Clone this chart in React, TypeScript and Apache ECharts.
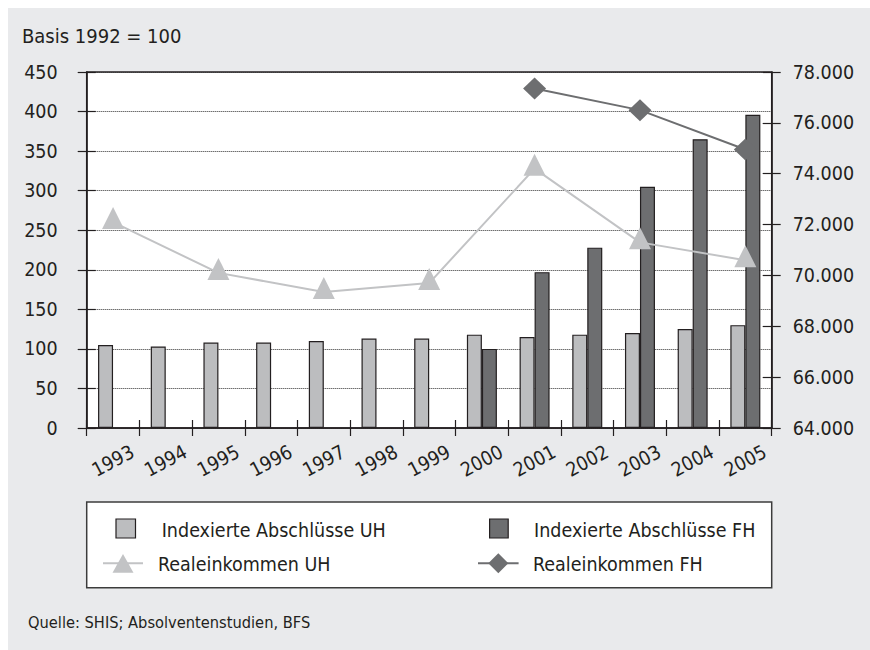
import React, { useEffect, useRef } from "react";
import * as echarts from "echarts";

const years = ["1993", "1994", "1995", "1996", "1997", "1998", "1999", "2000", "2001", "2002", "2003", "2004", "2005"];
const abschluesseUH = [105, 103, 108, 108, 110, 113, 113, 118, 115, 118, 120, 125, 130];
const abschluesseFH = [null, null, null, null, null, null, null, 100, 197, 228, 305, 365, 396];
const realeinkommenUH = [72100, null, 70100, null, 69350, null, 69700, null, 74200, null, 71300, null, 70600];
const realeinkommenFH = [null, null, null, null, null, null, null, null, 77350, null, 76500, null, 74950];

const leftAxis = { min: 0, max: 450, interval: 50 };
const rightAxis = { min: 64000, max: 78000, interval: 2000 };

const seriesNames = ["Indexierte Abschlüsse UH", "Indexierte Abschlüsse FH", "Realeinkommen UH", "Realeinkommen FH"];
const titleText = "Basis 1992 = 100";
const sourceText = "Quelle: SHIS; Absolventenstudien, BFS";

const FONT = "'DejaVu Sans Condensed', 'Liberation Sans Narrow', sans-serif";
const INK = "#231f20";
const LIGHT = "#bcbdbf";
const DARK = "#6d6e70";
const LINE_LIGHT = "#c2c3c5";
const BG = "#e9eaec";

function fmtThousands(v: number) {
  return String(v).replace(/\B(?=(\d{3})+(?!\d))/g, ".");
}

export default function App() {
  const ref = useRef<HTMLDivElement>(null);
  useEffect(() => {
    if (!ref.current) return;
    const chart = echarts.init(ref.current, undefined, { renderer: "svg" });
    const tickStyle = { color: INK, width: 1.2 };
    const option: any = {
      animation: false,
      backgroundColor: BG,
      textStyle: { fontFamily: FONT, color: INK },
      grid: {
        left: 78.7,
        right: 98.3,
        top: 64,
        bottom: 222,
        show: true,
        backgroundColor: "#ffffff",
        borderColor: INK,
        borderWidth: 1.5,
      },
      xAxis: [
        {
          type: "category",
          data: years,
          position: "bottom",
          axisLine: { show: true, onZero: false, lineStyle: { color: INK, width: 1.5 } },
          axisTick: { show: true, length: 8, lineStyle: tickStyle },
          axisLabel: {
            interval: 0,
            rotate: 28,
            align: "center",
            verticalAlign: "middle",
            margin: 33,
            fontSize: 19.5,
            color: INK,
            fontFamily: FONT,
          },
          splitLine: { show: false },
        },
        {
          type: "category",
          data: years,
          position: "bottom",
          axisLine: { show: false, onZero: false },
          axisTick: { show: true, inside: true, length: 8, lineStyle: tickStyle },
          axisLabel: { show: false },
          splitLine: { show: false },
        },
      ],
      yAxis: [
        {
          type: "value",
          position: "left",
          min: leftAxis.min,
          max: leftAxis.max,
          interval: leftAxis.interval,
          axisLine: { show: true, lineStyle: { color: INK, width: 1.5 } },
          axisTick: { show: true, length: 9, lineStyle: tickStyle },
          axisLabel: { margin: 29, fontSize: 19.5, color: INK, fontFamily: FONT },
          splitLine: { show: true, lineStyle: { type: [1, 1], color: "#2e2e2e", width: 1 } },
        },
        {
          type: "value",
          position: "right",
          min: rightAxis.min,
          max: rightAxis.max,
          interval: rightAxis.interval,
          axisLine: { show: true, lineStyle: { color: INK, width: 1.5 } },
          axisTick: { show: true, length: 9, lineStyle: tickStyle },
          axisLabel: { margin: 21, fontSize: 19.5, color: INK, fontFamily: FONT, formatter: (v: number) => fmtThousands(v) },
          splitLine: { show: false },
        },
        {
          type: "value",
          position: "left",
          min: leftAxis.min,
          max: leftAxis.max,
          interval: leftAxis.interval,
          axisLine: { show: false },
          axisTick: { show: true, inside: true, length: 9, lineStyle: tickStyle },
          axisLabel: { show: false },
          splitLine: { show: false },
        },
        {
          type: "value",
          position: "right",
          min: rightAxis.min,
          max: rightAxis.max,
          interval: rightAxis.interval,
          axisLine: { show: false },
          axisTick: { show: true, inside: true, length: 9, lineStyle: tickStyle },
          axisLabel: { show: false },
          splitLine: { show: false },
        },
      ],
      series: [
        {
          name: seriesNames[0],
          type: "bar",
          xAxisIndex: 0,
          yAxisIndex: 0,
          data: abschluesseUH,
          barWidth: 15,
          barGap: "0%",
          itemStyle: { color: LIGHT, borderColor: INK, borderWidth: 1.2 },
        },
        {
          name: seriesNames[1],
          type: "bar",
          xAxisIndex: 0,
          yAxisIndex: 0,
          data: abschluesseFH,
          barWidth: 15,
          barGap: "0%",
          itemStyle: { color: DARK, borderColor: INK, borderWidth: 1.2 },
        },
        {
          name: seriesNames[2],
          type: "line",
          xAxisIndex: 0,
          yAxisIndex: 1,
          data: realeinkommenUH,
          connectNulls: true,
          symbol: "triangle",
          symbolSize: [22, 22],
          symbolOffset: [0, -4],
          lineStyle: { color: LINE_LIGHT, width: 2 },
          itemStyle: { color: LINE_LIGHT, borderWidth: 0 },
          z: 5,
        },
        {
          name: seriesNames[3],
          type: "line",
          xAxisIndex: 0,
          yAxisIndex: 1,
          data: realeinkommenFH,
          connectNulls: true,
          symbol: "diamond",
          symbolSize: [23, 22],
          lineStyle: { color: DARK, width: 2 },
          itemStyle: { color: DARK, borderWidth: 0 },
          z: 5,
        },
      ],
      graphic: [
        {
          type: "text",
          left: 14,
          top: 18,
          style: { text: titleText, fontSize: 20, fontFamily: FONT, fill: INK },
        },
        {
          type: "rect",
          shape: { x: 78.7, y: 494, width: 685, height: 85.7 },
          style: { fill: "#ffffff", stroke: "#3c3c3c", lineWidth: 1.5 },
        },
        {
          type: "rect",
          shape: { x: 108, y: 511, width: 19.5, height: 19 },
          style: { fill: LIGHT, stroke: INK, lineWidth: 1.2 },
        },
        {
          type: "text",
          x: 153.7,
          y: 522,
          style: { text: seriesNames[0], fontSize: 19.5, fontFamily: FONT, fill: INK, verticalAlign: "middle" },
        },
        {
          type: "line",
          shape: { x1: 95, y1: 555.3, x2: 135, y2: 555.3 },
          style: { stroke: LINE_LIGHT, lineWidth: 2 },
        },
        {
          type: "polygon",
          shape: { points: [[115, 546], [125.5, 564.7], [104.5, 564.7]] },
          style: { fill: LINE_LIGHT },
        },
        {
          type: "text",
          x: 150,
          y: 556,
          style: { text: seriesNames[2], fontSize: 19.5, fontFamily: FONT, fill: INK, verticalAlign: "middle" },
        },
        {
          type: "rect",
          shape: { x: 481.6, y: 511, width: 18.6, height: 19 },
          style: { fill: DARK, stroke: INK, lineWidth: 1.2 },
        },
        {
          type: "text",
          x: 526,
          y: 522,
          style: { text: seriesNames[1], fontSize: 19.5, fontFamily: FONT, fill: INK, verticalAlign: "middle" },
        },
        {
          type: "line",
          shape: { x1: 470, y1: 555.3, x2: 510.6, y2: 555.3 },
          style: { stroke: DARK, lineWidth: 2 },
        },
        {
          type: "polygon",
          shape: { points: [[490.3, 545.3], [500.3, 555.3], [490.3, 565.3], [480.3, 555.3]] },
          style: { fill: DARK },
        },
        {
          type: "text",
          x: 525,
          y: 556,
          style: { text: seriesNames[3], fontSize: 19.5, fontFamily: FONT, fill: INK, verticalAlign: "middle" },
        },
        {
          type: "text",
          x: 20,
          y: 614,
          style: { text: sourceText, fontSize: 16.3, fontFamily: FONT, fill: INK, verticalAlign: "middle" },
        },
      ],
    };
    chart.setOption(option);
    return () => chart.dispose();
  }, []);
  return (
    <div
      ref={ref}
      style={{ position: "fixed", left: 8, top: 8, width: 862, height: 642 }}
    />
  );
}
